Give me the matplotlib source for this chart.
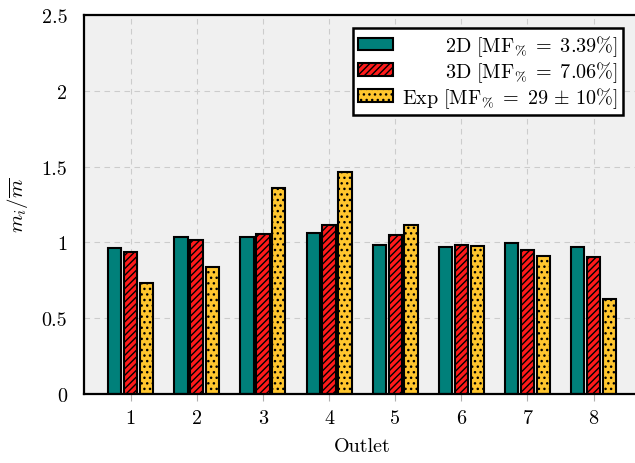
import matplotlib
matplotlib.use('Agg')
import matplotlib.pyplot as plt
import numpy as np

outlets = [1, 2, 3, 4, 5, 6, 7, 8]
ratio_2d = [0.96, 1.035, 1.035, 1.063, 0.985, 0.972, 0.998, 0.968]
ratio_3d = [0.94, 1.013, 1.058, 1.113, 1.052, 0.985, 0.948, 0.904]
ratio_exp = [0.73, 0.838, 1.356, 1.462, 1.118, 0.977, 0.911, 0.628]
labels = [r'$\mathrm{2D\ [MF_{\%}\;=\;3.39\%]}$',
          r'$\mathrm{3D\ [MF_{\%}\;=\;7.06\%]}$',
          r'$\mathrm{Exp\ [MF_{\%}\;=\;29\,\pm\,10\%]}$']
yticks = [0, 0.5, 1, 1.5, 2, 2.5]
ytick_labels = ['0', '0.5', '1', '1.5', '2', '2.5']

plt.rcParams['font.family'] = 'serif'
plt.rcParams['font.serif'] = ['cmr10']
plt.rcParams['mathtext.fontset'] = 'cm'
plt.rcParams['hatch.linewidth'] = 1.0

fig = plt.figure(figsize=(6.35, 4.64), dpi=100)
ax = fig.add_axes([0.1323, 0.1487, 0.876, 0.8168])
ax.set_facecolor('#f0f0f0')

x = np.array(outlets)
w = 0.2
off = 0.24
ax.bar(x - off, ratio_2d, w, color='#00807a', edgecolor='black', linewidth=1.5,
       label=labels[0], zorder=3)
ax.bar(x, ratio_3d, w, color='#ff1a1a', edgecolor='black', linewidth=1.5,
       hatch='/////', label=labels[1], zorder=3)
ax.bar(x + off, ratio_exp, w, color='#ffc62e', edgecolor='black', linewidth=1.5,
       hatch='...', label=labels[2], zorder=3)

ax.set_xlim(0.294, 8.706)
ax.set_ylim(0, 2.5)
ax.set_xticks(outlets)
ax.set_xticklabels([str(o) for o in outlets])
ax.set_yticks(yticks)
ax.set_yticklabels(ytick_labels)
ax.tick_params(axis='both', labelsize=14.5)
ax.tick_params(axis='x', direction='out', length=5, color='#b0b0b0', width=0.8, pad=6)
ax.tick_params(axis='y', length=0, pad=12)
ax.grid(True, linestyle=(0, (5, 4)), color='#cccccc', linewidth=0.8, zorder=0)
for s in ax.spines.values():
    s.set_linewidth(1.6)
    s.set_zorder(4)

ax.set_xlabel('Outlet', fontsize=14.5, labelpad=7)
ax.set_ylabel(r'$m_i/\overline{m}$', fontsize=15, labelpad=8)

leg = ax.legend(loc='upper right', bbox_to_anchor=(0.969, 0.965), borderaxespad=0,
                fontsize=14.5, fancybox=False, framealpha=1, edgecolor='black',
                handlelength=1.75, handleheight=0.6, handletextpad=0.45,
                borderpad=0.25, labelspacing=0.05)
leg.get_frame().set_linewidth(1.8)

# right-align the legend texts
fig.canvas.draw()
ws = [t.get_window_extent().width for t in leg.get_texts()]
for t, wt in zip(leg.get_texts(), ws):
    t.set_position((max(ws) - wt, 0))

fig.savefig('out.png', dpi=100)
